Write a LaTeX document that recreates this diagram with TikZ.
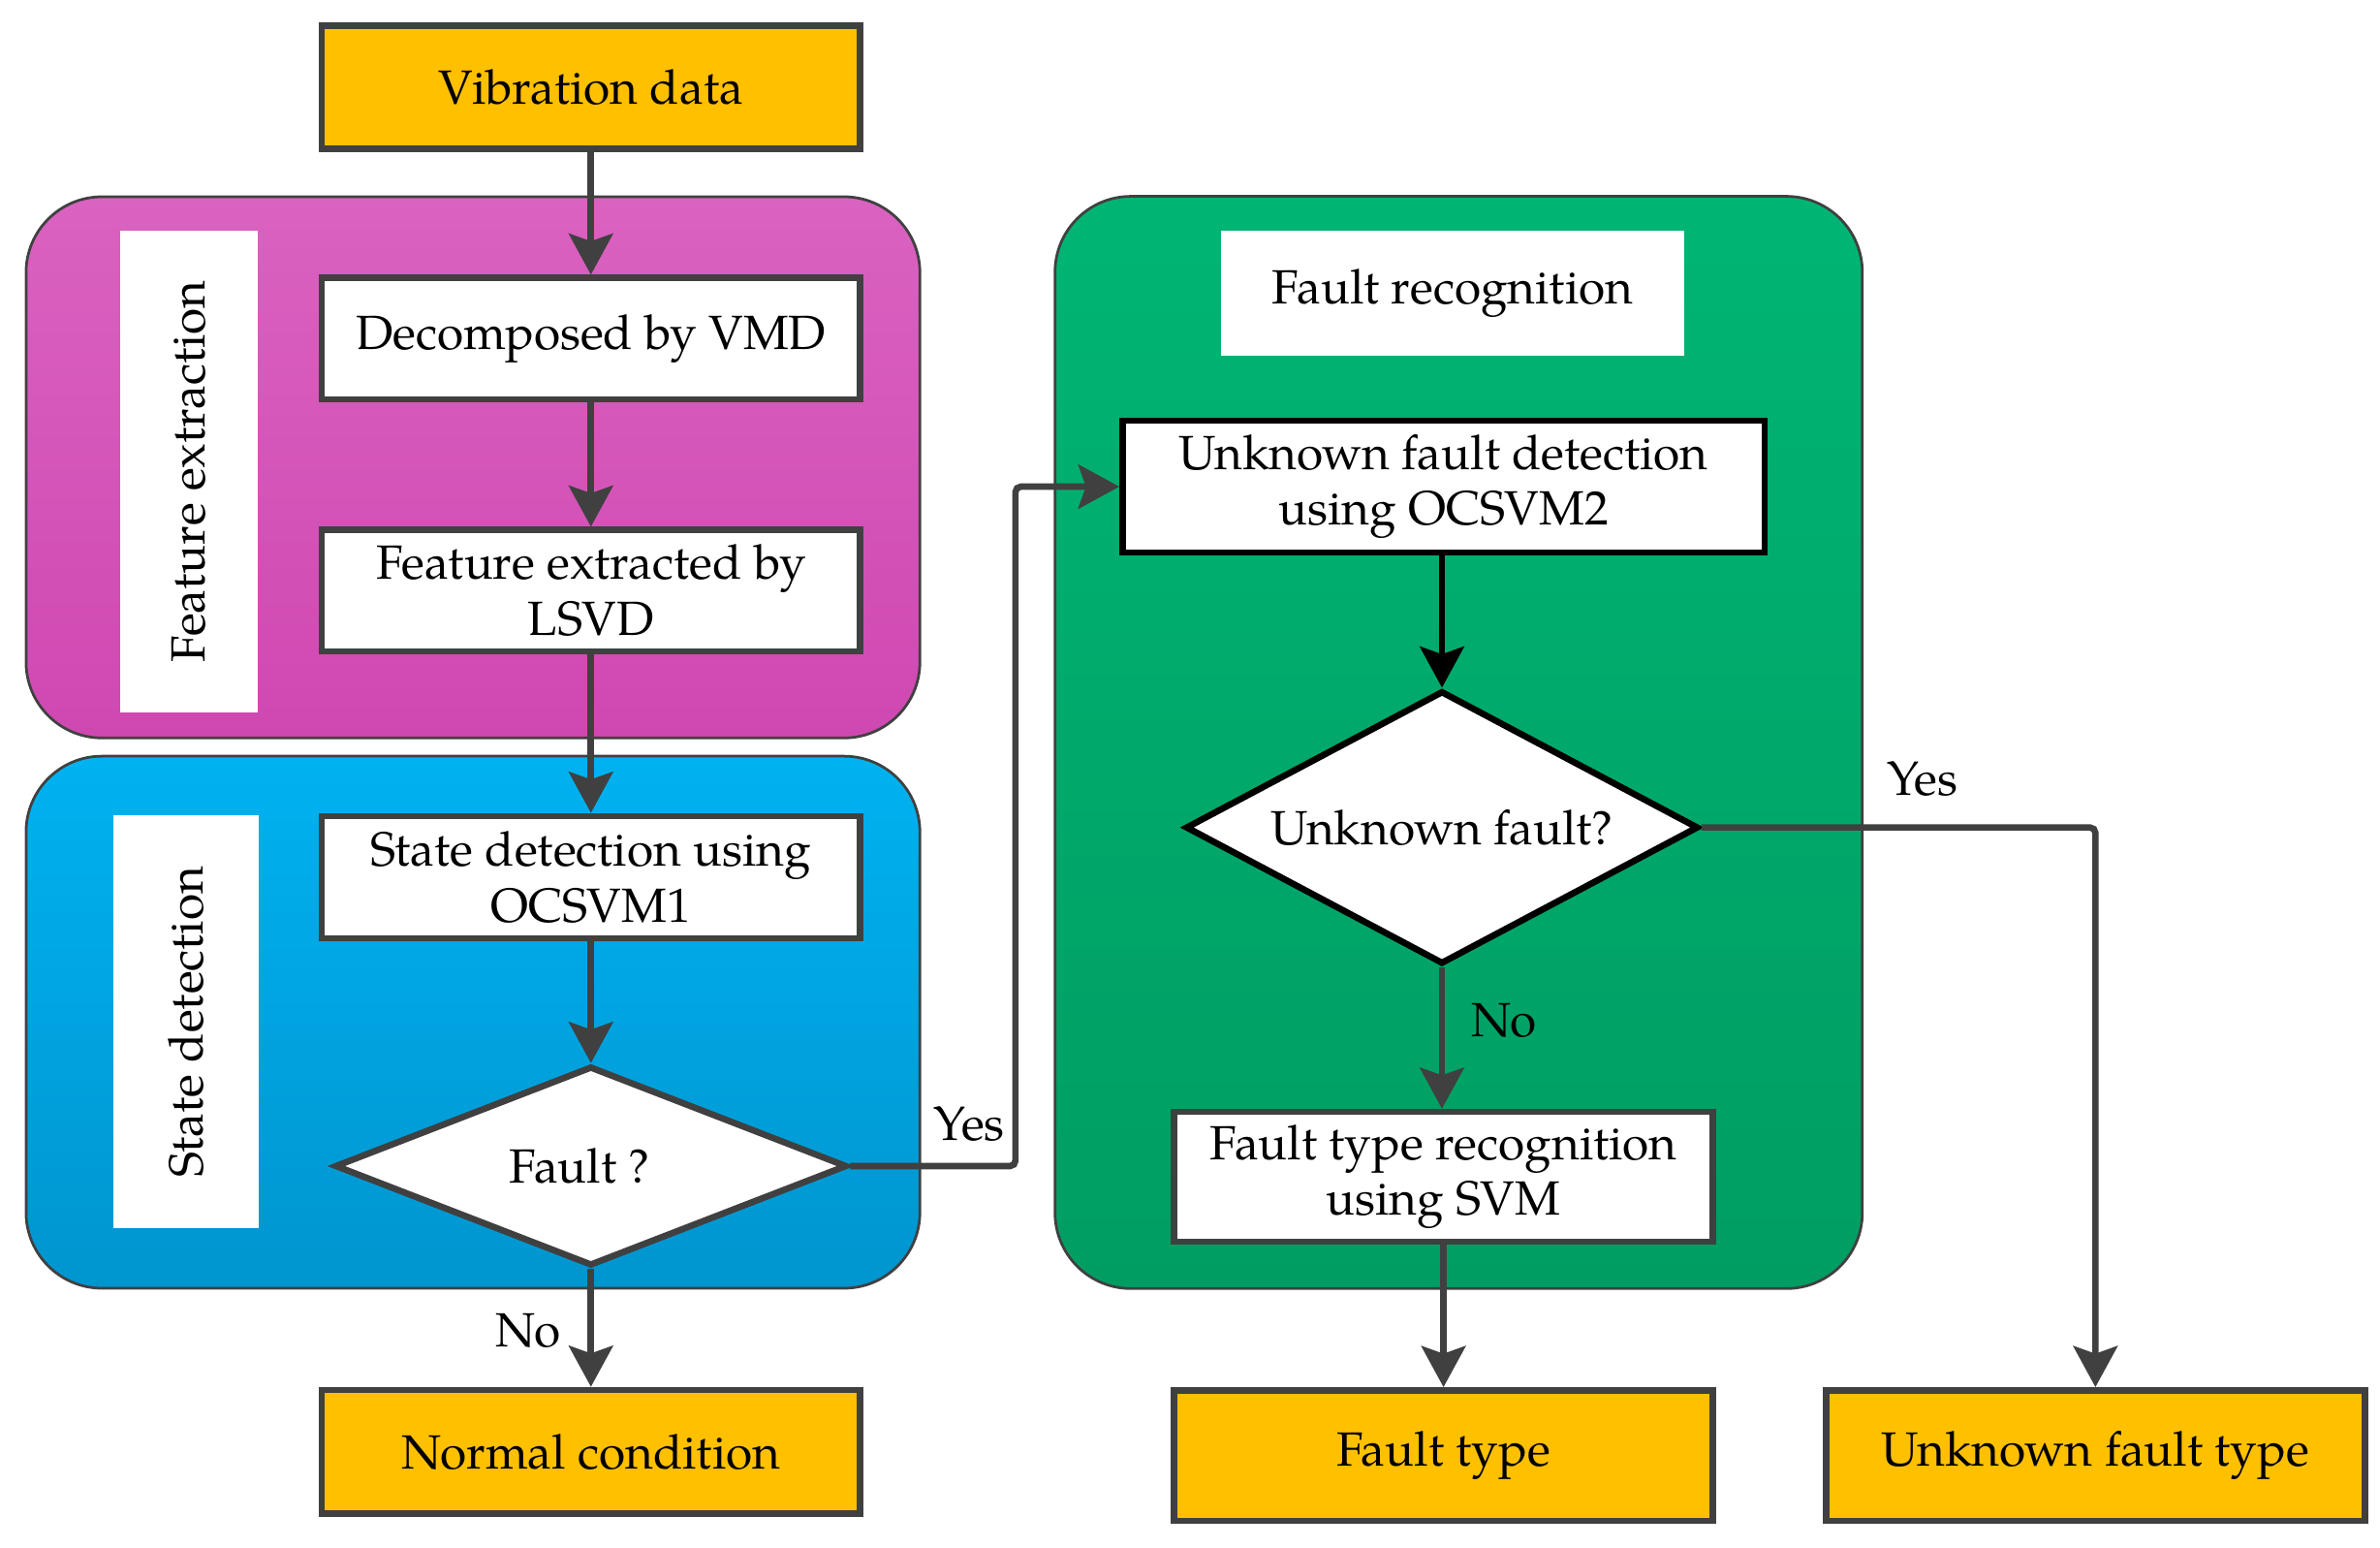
\documentclass[tikz,border=0pt]{standalone}
\usepackage{fontspec}
\setmainfont{TeX Gyre Pagella}
\usetikzlibrary{arrows.meta,shapes.geometric}
\definecolor{lineg}{HTML}{404040}
\definecolor{boxy}{HTML}{FFC000}
\definecolor{magT}{HTML}{DA62C0}
\definecolor{magB}{HTML}{CF48B2}
\definecolor{bluT}{HTML}{00B2F0}
\definecolor{bluB}{HTML}{0095CF}
\definecolor{grnT}{HTML}{00B574}
\definecolor{grnB}{HTML}{009D62}
\begin{document}
\begin{tikzpicture}[x=0.02cm,y=-0.02cm,
  every node/.style={font=\fontsize{18}{21}\selectfont, text=black},
  panel/.style={draw=lineg, line width=1pt, rounded corners=1cm, inner sep=0pt},
  lab/.style={fill=white, inner sep=0pt},
  proc/.style={draw=lineg, line width=2.4pt, fill=white, minimum width=7.1cm, minimum height=1.6cm, align=center, inner sep=0pt},
  term/.style={proc, fill=boxy},
  decision/.style={diamond, draw=lineg, line width=2.4pt, fill=white, inner sep=0pt, aspect=2.5},
  arr/.style={draw=lineg, line width=2.4pt, rounded corners=2pt, -{Stealth[length=0.54cm,width=0.58cm,inset=0.1cm]}},
]
\useasboundingbox (0,0) rectangle (1568,1019);

% panels
\node[panel, top color=magT, bottom color=magB, minimum width=11.78cm, minimum height=7.13cm] (fep) at (311.6,307.8) {};
\node[panel, top color=bluT, bottom color=bluB, minimum width=11.78cm, minimum height=7.01cm] (sdp) at (311.6,673.25) {};
\node[panel, top color=grnT, bottom color=grnB, minimum width=10.64cm, minimum height=14.39cm] (frp) at (961,489) {};

% panel labels
\node[lab, rotate=90, minimum width=6.34cm, minimum height=1.82cm] (fel) at (124.5,310.5) {Feature extraction};
\node[lab, rotate=90, minimum width=5.44cm, minimum height=1.92cm] (sdl) at (122.5,673) {State detection};
\node[lab, minimum width=6.1cm, minimum height=1.65cm] (frl) at (957,193.3) {Fault recognition};

% boxes
\node[term, minimum height=1.62cm] (vib) at (389.3,57.5) {Vibration data};
\node[proc] (dcm) at (389.3,223) {Decomposed by VMD};
\node[proc] (feat) at (389.3,389) {Feature extracted by\\LSVD};
\node[proc, minimum height=1.61cm] (sdet) at (389.3,577.75) {State detection using\\OCSVM1};
\node[decision, minimum width=6.75cm, minimum height=2.63cm] (flt) at (389.3,768) {Fault ?\hspace*{0.3cm}};
\node[term, minimum height=1.63cm] (nor) at (389.3,956.25) {Normal condition};
\node[proc, draw=black, minimum width=8.46cm, minimum height=1.74cm] (ukd) at (951,320.5) {Unknown fault detection\\using OCSVM2};
\node[decision, draw=black, minimum width=6.76cm, minimum height=3.6cm] (ukq) at (950,545) {Unknown fault?};
\node[proc, minimum height=1.71cm] (ftr) at (951,775.1) {Fault type recognition\\using SVM};
\node[term, minimum height=1.72cm] (ft) at (951,958.7) {Fault type};
\node[term, minimum height=1.72cm] (uft) at (1380.5,958.7) {Unknown fault type};

% connectors
\draw[arr] (vib) -- (dcm);
\draw[arr] (dcm) -- (feat);
\draw[arr] (feat) -- (sdet);
\draw[arr] (sdet) -- (flt);
\draw[arr] (flt) -- (nor);
\coordinate (y1) at (669,768);
\coordinate (y2) at (669,320.5);
\draw[arr] (flt.east) -- (y1) -- (y2) -- (ukd.west);
\draw[arr, draw=black] (ukd.south -| ukq.north) -- (ukq.north);
\draw[arr] (ukq.south) -- (ukq.south |- ftr.north);
\draw[arr] (ftr) -- (ft);
\coordinate (y3) at (1380.5,545);
\draw[arr] (ukq.east) -- (y3) -- (uft.north);

% connector labels
\node[anchor=base] (yes1) at (638.5,751) {Yes};
\node[anchor=base] (no1) at (348,887) {No};
\node[anchor=base] (yes2) at (1266.5,524) {Yes};
\node[anchor=base] (no2) at (991,682.5) {No};
\end{tikzpicture}
\end{document}
